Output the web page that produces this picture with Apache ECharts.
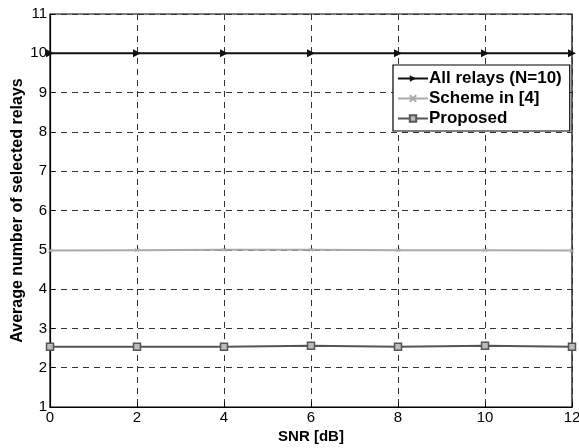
<!DOCTYPE html>
<html>
<head>
<meta charset="utf-8">
<script src="https://cdn.jsdelivr.net/npm/echarts@6/dist/echarts.min.js"></script>
<style>html,body{margin:0;padding:0;background:#fff;}#c{width:579px;height:448px;}</style>
</head>
<body>
<div id="c"></div>
<script>
var snr = [0, 2, 4, 6, 8, 10, 12];
var allRelays = [10, 10, 10, 10, 10, 10, 10];
var scheme4 = [4.98, 4.99, 5.0, 5.0, 4.99, 4.99, 4.98];
var proposed = [2.53, 2.53, 2.53, 2.56, 2.53, 2.56, 2.53];
var names = ['All relays (N=10)', 'Scheme in [4]', 'Proposed'];

function pairs(ys) { return snr.map(function (x, i) { return [x, ys[i]]; }); }

var chart = echarts.init(document.getElementById('c'));
var font = 'Liberation Sans, Arial, sans-serif';
chart.setOption({
  animation: false,
  backgroundColor: '#fff',
  grid: { left: 50, right: 7, top: 14, bottom: 41, containLabel: false, outerBoundsMode: 'none',
          show: true, borderColor: '#000', borderWidth: 1.2, backgroundColor: 'transparent' },
  xAxis: {
    type: 'value', min: 0, max: 12, interval: 2,
    name: 'SNR [dB]', nameLocation: 'middle', nameGap: 22, nameMoveOverlap: false,
    nameTextStyle: { fontFamily: font, fontWeight: 'bold', fontSize: 15, color: '#000' },
    axisLine: { lineStyle: { color: '#000', width: 1.2 } },
    axisTick: { inside: true, length: 5, lineStyle: { color: '#000' } },
    axisLabel: { fontFamily: font, fontSize: 15, color: '#000', margin: 3 },
    splitLine: { show: true, lineStyle: { color: '#333', type: [6, 5], width: 1 } }
  },
  yAxis: {
    type: 'value', min: 1, max: 11, interval: 1,
    name: 'Average number of selected relays', nameLocation: 'middle', nameGap: 24, nameMoveOverlap: false,
    nameTextStyle: { fontFamily: font, fontWeight: 'bold', fontSize: 16, color: '#000' },
    axisLine: { show: true, lineStyle: { color: '#000', width: 1.2 } },
    axisTick: { show: true, inside: true, length: 5, lineStyle: { color: '#000' } },
    axisLabel: { fontFamily: font, fontSize: 15, color: '#000', margin: 3 },
    splitLine: { show: true, lineStyle: { color: '#333', type: [6, 5], width: 1 } }
  },
  legend: {
    orient: 'vertical', left: 393, top: 65,
    padding: [5, 8, 4, 4], itemGap: 3, itemWidth: 30, itemHeight: 8,
    backgroundColor: '#fff', borderColor: '#000', borderWidth: 1.2,
    textStyle: { fontFamily: font, fontWeight: 'bold', fontSize: 17, color: '#000', padding: [0, 0, 0, -4] },
    data: names
  },
  series: [
    {
      name: names[0], type: 'line', data: pairs(allRelays),
      symbol: 'triangle', symbolRotate: -90, symbolSize: 8,
      lineStyle: { color: '#111', width: 2 },
      itemStyle: { color: '#111' }
    },
    {
      name: names[1], type: 'line', data: pairs(scheme4),
      symbol: 'path://M0,0 L10,10 M10,0 L0,10', symbolSize: 4,
      lineStyle: { color: '#aaa', width: 2 },
      itemStyle: { color: '#aaa', borderColor: '#aaa', borderWidth: 1 }
    },
    {
      name: names[2], type: 'line', data: pairs(proposed),
      symbol: 'rect', symbolSize: 7,
      lineStyle: { color: '#555', width: 2 },
      itemStyle: { color: '#bbb', borderColor: '#555', borderWidth: 1.5 }
    }
  ]
});
</script>
</body>
</html>
